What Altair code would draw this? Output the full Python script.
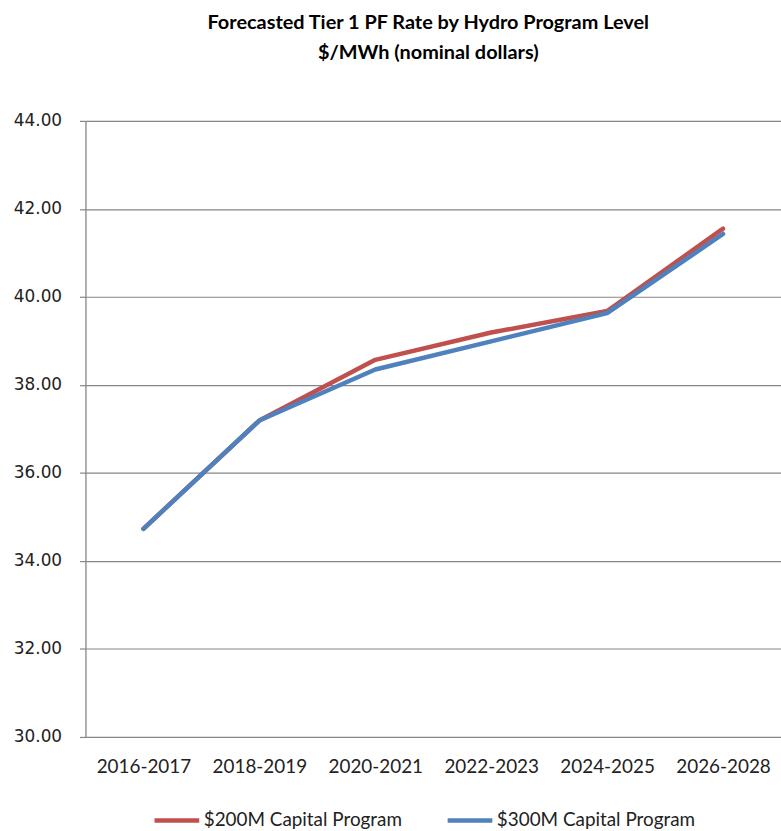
import altair as alt
import pandas as pd

periods = ["2016-2017", "2018-2019", "2020-2021", "2022-2023", "2024-2025", "2026-2028"]
series_200 = [34.73, 37.19, 38.57, 39.19, 39.68, 41.55]
series_300 = [34.73, 37.19, 38.35, 38.99, 39.63, 41.43]
series_names = ["$200M Capital Program", "$300M Capital Program"]
colors = ["#C0504D", "#4F81BD"]
y_ticks = [30, 32, 34, 36, 38, 40, 42, 44]

rows = []
for name, vals in zip(series_names, [series_200, series_300]):
    for p, v in zip(periods, vals):
        rows.append({"period": p, "rate": v, "series": name})
df = pd.DataFrame(rows)

FONT = "Lato"

chart = (
    alt.Chart(df)
    .mark_line(strokeWidth=4.5, strokeCap="round", strokeJoin="round")
    .encode(
        x=alt.X(
            "period:N",
            sort=periods,
            scale=alt.Scale(type="point", padding=0.5),
            axis=alt.Axis(
                title=None, labelAngle=0, ticks=False, domain=False, grid=False,
                labelFont=FONT, labelFontSize=19, labelColor="#222222",
                labelPadding=21,
            ),
        ),
        y=alt.Y(
            "rate:Q",
            scale=alt.Scale(domain=[30, 44], nice=False, zero=False),
            axis=alt.Axis(
                title=None, values=y_ticks, format=".2f",
                labelFont="DejaVu Sans", labelFontSize=17, labelColor="#222222",
                labelPadding=18, tickSize=6, tickColor="#868686", tickWidth=1.2,
                domainColor="#868686", domainWidth=1.2,
                gridColor="#868686", gridWidth=1.2,
            ),
        ),
        color=alt.Color(
            "series:N",
            sort=series_names,
            scale=alt.Scale(domain=series_names, range=colors),
            legend=alt.Legend(
                title=None, orient="none", direction="horizontal",
                legendX=67, legendY=679,
                symbolType="stroke", symbolSize=2025, symbolStrokeWidth=4.5,
                labelFont=FONT, labelFontSize=19, labelColor="#222222",
                labelOffset=2, columnPadding=36, labelLimit=400,
            ),
        ),
        order=alt.Order("series:N", sort="descending"),
    )
    .properties(
        width=700,
        height=620,
        padding={"left": 86, "top": 119, "right": 0, "bottom": 92},
        autosize=alt.AutoSizeParams(type="none"),
        title=alt.TitleParams(
            text=["Forecasted Tier 1 PF Rate by Hydro Program Level", "$/MWh (nominal dollars)"],
            font=FONT, fontSize=20, fontWeight="bold", color="#000000",
            anchor="middle", dx=-5, offset=49, lineHeight=30,
        ),
    )
    .configure_view(stroke=None)
    .configure(background="white")
)

chart.save("out.html", embed_options={"renderer": "svg", "actions": False})
